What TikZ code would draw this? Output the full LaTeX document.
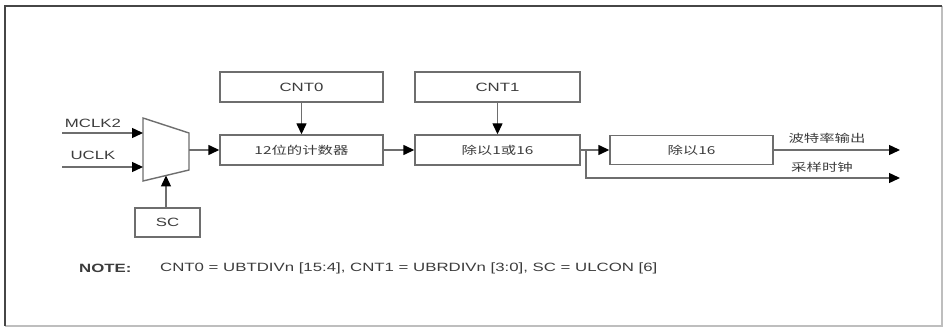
\documentclass[tikz,border=0pt]{standalone}
\usepackage{fontspec}
\setmainfont[FakeStretch=1.4]{Liberation Sans}
\newfontfamily\cjk[FakeStretch=1.4]{Noto Sans CJK SC}
\usetikzlibrary{arrows.meta}
\definecolor{linecol}{RGB}{110,110,110}
\definecolor{textcol}{RGB}{60,60,60}
\definecolor{framedark}{RGB}{70,70,70}
\definecolor{framelight}{RGB}{190,190,190}
\tikzset{
  blk/.style={draw=linecol, line width=1.4pt, fill=white, inner sep=0pt, text=textcol},
  conn/.style={draw=linecol, line width=1.4pt, -{Triangle[length=11pt,width=10pt,fill=black,color=black]}},
  plain/.style={draw=linecol, line width=1.4pt},
  lbl/.style={text=textcol, inner sep=0pt, font=\fontsize{12}{14}\selectfont},
  clbl/.style={text=textcol, inner sep=0pt, font=\cjk\fontsize{11}{13}\selectfont},
}
\begin{document}
\begin{tikzpicture}[x=1pt,y=-1pt]
\useasboundingbox (0,0) rectangle (946,331);
% frame
\draw[framelight, line width=1.5pt] (942,6) -- (942,326) -- (5,326);
\draw[framedark, line width=2pt] (5,326) -- (5,6) -- (942,6);

% boxes
\node[blk, minimum width=163pt, minimum height=30pt, font=\fontsize{12}{14}\selectfont] (cnt0) at (301.5,87) {CNT0};
\node[blk, minimum width=165pt, minimum height=30pt, font=\fontsize{12}{14}\selectfont] (cnt1) at (497.5,87) {CNT1};
\node[blk, minimum width=163pt, minimum height=30pt, font=\cjk\fontsize{11}{13}\selectfont] (counter) at (301.5,150) {12位的计数器};
\node[blk, minimum width=165pt, minimum height=30pt, font=\cjk\fontsize{11}{13}\selectfont] (div1) at (497.5,150) {除以1或16};
\node[blk, minimum width=163pt, minimum height=29pt, font=\cjk\fontsize{11}{13}\selectfont] (div16) at (691.5,150) {除以16};
\node[blk, minimum width=65pt, minimum height=29pt, font=\fontsize{12}{14}\selectfont] (sc) at (167.5,222.5) {SC};

% mux
\coordinate (mtl) at (143,118);
\coordinate (mtr) at (189,133);
\coordinate (mbr) at (189,170);
\coordinate (mbl) at (143,181);
\draw[linecol, line width=1.4pt, fill=white] (mtl) -- (mtr) -- (mbr) -- (mbl) -- cycle;
\coordinate (min1) at (143,133);
\coordinate (min2) at (143,167);
\coordinate (mout) at (189,150);
\coordinate (msel) at (166,175.5);

% inputs
\coordinate (s1) at (62,133);
\coordinate (s2) at (62,167);
\draw[conn] (s1) -- (min1);
\draw[conn] (s2) -- (min2);
\node[lbl] (lmclk) at (93,123) {MCLK2};
\node[lbl] (luclk) at (93,155) {UCLK};

\draw[conn] (sc.north -| msel) -- (msel);
\draw[conn] (mout) -- (counter.west);
\draw[conn] (cnt0.south) -- (counter.north);
\draw[conn] (cnt1.south) -- (div1.north);
\draw[conn] (counter.east) -- (div1.west);
\draw[conn] (div1.east) -- (div16.west);

% outputs
\coordinate (br) at (586,150);
\coordinate (brd) at (586,178);
\coordinate (o1) at (900,150);
\coordinate (o2) at (900,178);
\draw[conn] (div16.east) -- (o1);
\draw[conn] (br) -- (brd) -- (o2);
\node[clbl] (lbaud) at (827,138) {波特率输出};
\node[clbl] (lsamp) at (822,167) {采样时钟};

% note
\node[lbl, anchor=west, font=\bfseries\fontsize{12}{14}\selectfont] (note) at (79,268) {NOTE:};
\node[lbl, anchor=west] (notetext) at (160,268) {CNT0 = UBTDIVn [15:4], CNT1 = UBRDIVn [3:0], SC = ULCON [6]};
\end{tikzpicture}
\end{document}
